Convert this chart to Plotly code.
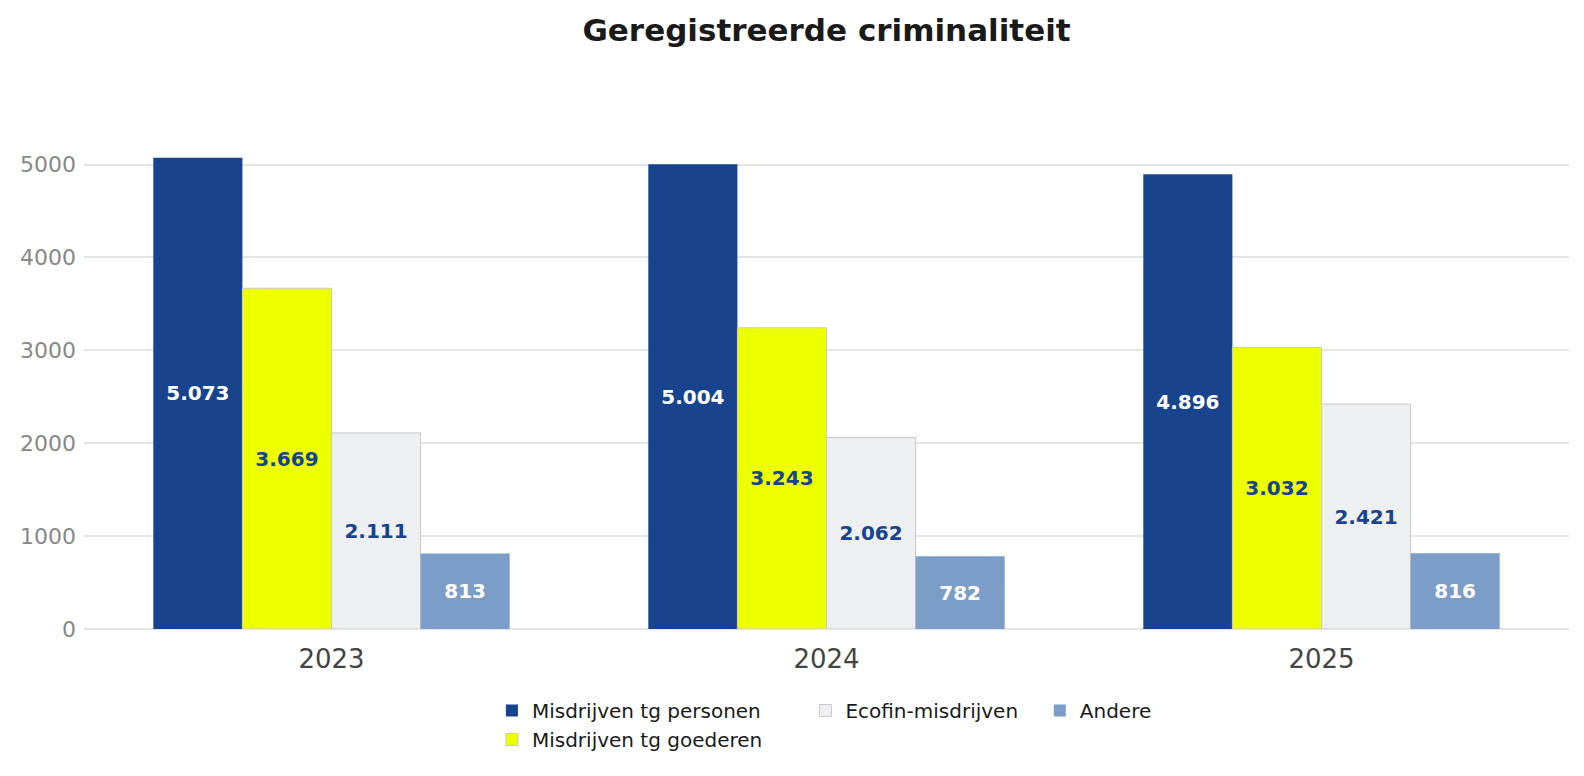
import plotly.graph_objects as go

# Data
years = ["2023", "2024", "2025"]
personen = [5073, 5004, 4896]
goederen = [3669, 3243, 3032]
ecofin = [2111, 2062, 2421]
andere = [813, 782, 816]

# non-breaking padding widens the legend columns a bit
pad1 = "\u00a0" * 6
pad2 = "\u00a0\u00a0\u2009"

series = [
    ("Misdrijven tg personen", personen, "#17448d", "white", None, "g1"),
    ("Misdrijven tg goederen" + pad1, goederen, "#eeff00", "#17448d", "#c8c8c8", "g1"),
    ("Ecofin-misdrijven" + pad2, ecofin, "#eeeff0", "#17448d", "#c8c8c8", "g2"),
    ("Andere", andere, "#7b9dc7", "white", None, "g3"),
]

fig = go.Figure()
for name, vals, color, txtcolor, linecolor, grp in series:
    fig.add_trace(go.Bar(
        name=name,
        x=years,
        y=vals,
        legendgroup=grp,
        texttemplate="%{y:,.0f}",
        textposition="inside",
        insidetextanchor="middle",
        textangle=0,
        textfont=dict(family="DejaVu Sans", size=20, color=txtcolor, weight="bold"),
        marker=dict(color=color,
                    line=dict(width=1 if linecolor else 0, color=linecolor or color)),
    ))

fig.update_layout(
    title=dict(text="<b>Geregistreerde criminaliteit</b>", x=0.5, xref="paper", xanchor="center",
               y=0.971, yanchor="middle", font=dict(family="DejaVu Sans", size=31, color="#1a1a1a")),
    barmode="group",
    bargap=0.28,
    bargroupgap=0,
    separators=",.",
    plot_bgcolor="white",
    paper_bgcolor="white",
    font=dict(family="DejaVu Sans"),
    width=1584,
    height=768,
    margin=dict(l=71, r=23, t=125, b=147),
    uniformtext=dict(minsize=8, mode="show"),
    legend=dict(orientation="h", x=0.4986, xanchor="center", y=-0.125, yanchor="top",
                font=dict(size=20, color="#1a1a1a"), groupclick="toggleitem"),
)
fig.update_xaxes(tickfont=dict(size=26, color="#444444"), showline=False,
                 ticks="", showgrid=False, ticklabelstandoff=12)
fig.update_yaxes(tickfont=dict(size=22, color="#888888"), gridcolor="#e5e5e5",
                 gridwidth=2, zeroline=True, zerolinecolor="#e5e5e5", zerolinewidth=2,
                 dtick=1000, tickformat="d", ticklabelstandoff=7)

fig.write_html("out.html")
